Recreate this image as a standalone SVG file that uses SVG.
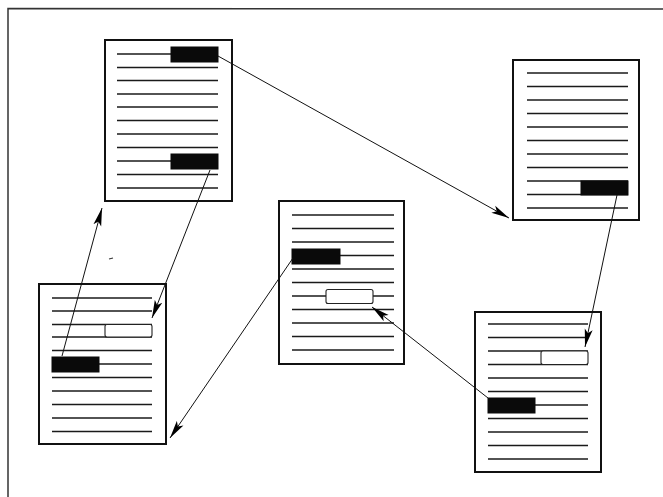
<svg xmlns="http://www.w3.org/2000/svg" width="663" height="497" viewBox="0 0 663 497">
<style>
.page{fill:#fff;stroke:#111;stroke-width:2}
.ln{stroke:#1a1a1a;stroke-width:1.3}
.blk{fill:#0a0a0a;stroke:#0a0a0a;stroke-width:1}
.hol{fill:#fff;stroke:#222;stroke-width:1.1}
.con{stroke:#111;stroke-width:1;fill:none}
.frame{stroke:#333;stroke-width:1.5;fill:none}
</style>
<defs>
<marker id="ah" markerUnits="userSpaceOnUse" markerWidth="20" markerHeight="10" viewBox="0 -5 20 10" refX="18" refY="0" orient="auto">
<path d="M0,-4 L18,0 L0,4 L4,0 z" fill="#000"/>
</marker>
</defs>
<rect width="663" height="497" fill="#fff"/>
<path class="frame" d="M8,497 L8,8.5 L663,9"/>
<path d="M109,259 L113,258" stroke="#333" stroke-width="1.2"/>

<g id="docA">
<rect class="page" x="105" y="40" width="127" height="161"/>
<g class="ln">
<line x1="117" y1="54" x2="218" y2="54"/>
<line x1="117" y1="67.5" x2="218" y2="67.5"/>
<line x1="117" y1="80.5" x2="218" y2="80.5"/>
<line x1="117" y1="94" x2="218" y2="94"/>
<line x1="117" y1="107" x2="218" y2="107"/>
<line x1="117" y1="120.5" x2="218" y2="120.5"/>
<line x1="117" y1="134" x2="218" y2="134"/>
<line x1="117" y1="147.5" x2="218" y2="147.5"/>
<line x1="117" y1="161" x2="218" y2="161"/>
<line x1="117" y1="174.5" x2="218" y2="174.5"/>
<line x1="117" y1="188" x2="218" y2="188"/>
</g>
<rect class="blk" x="171" y="47" width="47" height="15"/>
<rect class="blk" x="171" y="154" width="47" height="15"/>
</g>

<g id="docB">
<rect class="page" x="39" y="284" width="127" height="160"/>
<g class="ln">
<line x1="52" y1="298" x2="152" y2="298"/>
<line x1="52" y1="311" x2="152" y2="311"/>
<line x1="52" y1="324.5" x2="152" y2="324.5"/>
<line x1="52" y1="337" x2="152" y2="337"/>
<line x1="52" y1="350.5" x2="152" y2="350.5"/>
<line x1="52" y1="364" x2="152" y2="364"/>
<line x1="52" y1="377.5" x2="152" y2="377.5"/>
<line x1="52" y1="391" x2="152" y2="391"/>
<line x1="52" y1="404.5" x2="152" y2="404.5"/>
<line x1="52" y1="418" x2="152" y2="418"/>
<line x1="52" y1="431.5" x2="152" y2="431.5"/>
</g>
<rect class="hol" x="105" y="324.5" width="47" height="12.5" rx="2"/>
<rect class="blk" x="52" y="357" width="47" height="15"/>
</g>

<g id="docC">
<rect class="page" x="279" y="201" width="125" height="163"/>
<g class="ln">
<line x1="292" y1="215" x2="394" y2="215"/>
<line x1="292" y1="228.5" x2="394" y2="228.5"/>
<line x1="292" y1="242" x2="394" y2="242"/>
<line x1="292" y1="255.5" x2="394" y2="255.5"/>
<line x1="292" y1="269" x2="394" y2="269"/>
<line x1="292" y1="282.5" x2="394" y2="282.5"/>
<line x1="292" y1="296" x2="394" y2="296"/>
<line x1="292" y1="309.5" x2="394" y2="309.5"/>
<line x1="292" y1="323" x2="394" y2="323"/>
<line x1="292" y1="336.5" x2="394" y2="336.5"/>
<line x1="292" y1="350" x2="394" y2="350"/>
</g>
<rect class="blk" x="292" y="249" width="48" height="15"/>
<rect class="hol" x="326" y="289.5" width="47" height="14" rx="2"/>
</g>

<g id="docD">
<rect class="page" x="513" y="60" width="126" height="160"/>
<g class="ln">
<line x1="527" y1="73" x2="628" y2="73"/>
<line x1="527" y1="86.5" x2="628" y2="86.5"/>
<line x1="527" y1="100" x2="628" y2="100"/>
<line x1="527" y1="113.5" x2="628" y2="113.5"/>
<line x1="527" y1="127" x2="628" y2="127"/>
<line x1="527" y1="140.5" x2="628" y2="140.5"/>
<line x1="527" y1="154" x2="628" y2="154"/>
<line x1="527" y1="167.5" x2="628" y2="167.5"/>
<line x1="527" y1="181" x2="628" y2="181"/>
<line x1="527" y1="194.5" x2="628" y2="194.5"/>
<line x1="527" y1="208" x2="628" y2="208"/>
</g>
<rect class="blk" x="581" y="181" width="47" height="14"/>
</g>

<g id="docE">
<rect class="page" x="475" y="312" width="126" height="160"/>
<g class="ln">
<line x1="488" y1="324" x2="588" y2="324"/>
<line x1="488" y1="337.5" x2="588" y2="337.5"/>
<line x1="488" y1="351" x2="588" y2="351"/>
<line x1="488" y1="364.5" x2="588" y2="364.5"/>
<line x1="488" y1="378" x2="588" y2="378"/>
<line x1="488" y1="391.5" x2="588" y2="391.5"/>
<line x1="488" y1="405" x2="588" y2="405"/>
<line x1="488" y1="418.5" x2="588" y2="418.5"/>
<line x1="488" y1="432" x2="588" y2="432"/>
<line x1="488" y1="445.5" x2="588" y2="445.5"/>
<line x1="488" y1="459" x2="588" y2="459"/>
</g>
<rect class="hol" x="541" y="351" width="47" height="13.5" rx="2"/>
<rect class="blk" x="488" y="398" width="47" height="15"/>
</g>

<g id="connectors">
<line class="con" x1="218" y1="56" x2="509" y2="218" marker-end="url(#ah)"/>
<line class="con" x1="210" y1="170" x2="152" y2="318" marker-end="url(#ah)"/>
<line class="con" x1="62" y1="356" x2="102" y2="208" marker-end="url(#ah)"/>
<line class="con" x1="293" y1="258" x2="170" y2="438" marker-end="url(#ah)"/>
<line class="con" x1="617" y1="195" x2="585" y2="347" marker-end="url(#ah)"/>
<line class="con" x1="488" y1="398" x2="372" y2="307" marker-end="url(#ah)"/>
</g>
</svg>
